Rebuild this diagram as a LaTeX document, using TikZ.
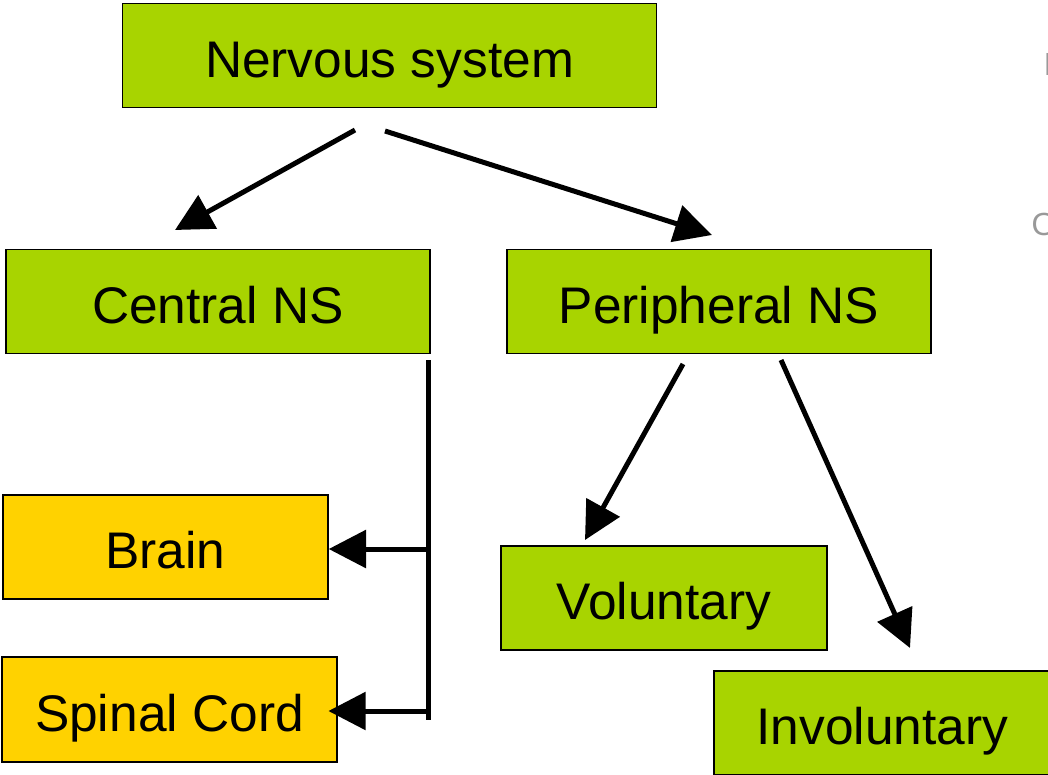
\documentclass[tikz,border=0pt]{standalone}
\usepackage{fontspec}
\setmainfont{Liberation Sans}
\usetikzlibrary{arrows.meta}
\definecolor{nsgreen}{RGB}{168,212,0}
\definecolor{nsyellow}{RGB}{255,210,0}
\tikzset{
  box/.style={draw=black, line width=1.1pt, fill=nsgreen, minimum height=78pt,
    inner sep=0pt, text height=32.4pt, text depth=0pt,
    font=\fontsize{38.6}{46}\selectfont},
  ybox/.style={box, fill=nsyellow},
  arr/.style={line width=3.75pt, -{Triangle[length=28pt,width=28pt]}},
  bar/.style={line width=3.75pt}
}
\begin{document}
\begin{tikzpicture}[x=0.75pt,y=0.75pt,yscale=-1,xscale=1]
\useasboundingbox (0,0) rectangle (1048,774);

%Boxes
\node[box, minimum width=400.5pt] (nervous) at (389.5,55.5) {Nervous system};
\node[box, minimum width=318pt] (central) at (218,301.5) {Central NS};
\node[box, minimum width=318pt] (peripheral) at (719,301.5) {Peripheral NS};
\node[ybox, minimum width=243.75pt] (brain) at (165.5,547) {Brain};
\node[ybox, minimum width=251.25pt, minimum height=78.75pt] (spinal) at (169.5,709.5) {Spinal Cord};
\node[box, minimum width=244.5pt] (voluntary) at (664,598) {Voluntary};
\node[box, minimum width=252.75pt] (involuntary) at (882.5,723) {Involuntary};

%faint cut-off letters at the right edge
\node[anchor=west, text=black!40, font=\fontsize{24}{28}\selectfont] (cutI) at (1039,64) {I};
\node[anchor=west, text=black!40, font=\fontsize{24}{28}\selectfont] (cutO) at (1027,224) {O};

%Connector ends
\coordinate (ns-l) at (355,130);
\coordinate (ns-r) at (385,131);
\coordinate (cn-tip) at (175,230);
\coordinate (pn-tip) at (712,235);
\coordinate (spine-top) at (428,360);
\coordinate (spine-bot) at (428,720);
\coordinate (spine-b) at (428,549);
\coordinate (spine-s) at (428,711);
\coordinate (pn-l) at (683,364);
\coordinate (pn-r) at (781,360);
\coordinate (vol-tip) at (585,540);
\coordinate (inv-tip) at (910,648);

%Connectors
\draw[arr] (ns-l) -- (cn-tip);
\draw[arr] (ns-r) -- (pn-tip);
\draw[bar] (spine-top) -- (spine-bot);
\draw[arr] (spine-b) -- (spine-b -| brain.east);
\draw[arr, shorten >=-7pt] (spine-s) -- (spine-s -| spinal.east);
\draw[arr] (pn-l) -- (vol-tip);
\draw[arr] (pn-r) -- (inv-tip);

\end{tikzpicture}
\end{document}
